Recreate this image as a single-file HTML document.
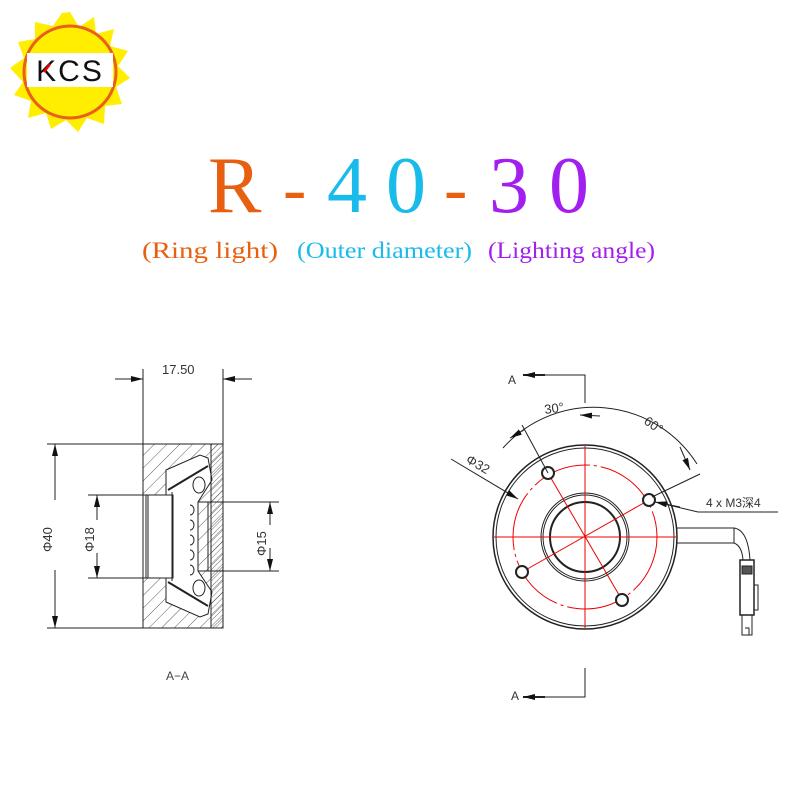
<!DOCTYPE html>
<html><head><meta charset="utf-8"><style>html,body{margin:0;padding:0;background:#fff}svg{display:block}</style></head>
<body>
<svg width="800" height="800" viewBox="0 0 800 800" xmlns="http://www.w3.org/2000/svg">
<defs>
<pattern id="h" width="9" height="9" patternUnits="userSpaceOnUse" patternTransform="rotate(45)"><line x1="0" y1="0" x2="0" y2="9" stroke="#333" stroke-width="0.8"/></pattern>
<pattern id="h2" width="4" height="4" patternUnits="userSpaceOnUse" patternTransform="rotate(45)"><line x1="0" y1="0" x2="0" y2="4" stroke="#333" stroke-width="0.7"/></pattern>
<marker id="ar" markerWidth="12" markerHeight="6" refX="12" refY="3" orient="auto" markerUnits="userSpaceOnUse"><path d="M0,0 L12,3 L0,6 z" fill="#111"/></marker>
</defs>
<!-- logo -->
<g transform="translate(70,72)">
<polygon fill="#ffee00" points="0,-60 9,-45 24,-55 26,-38 44,-43 40,-26 58,-21 48,-6 60,6 46,15 52,32 35,34 34,52 17,46 8,60 -4,48 -19,57 -24,41 -42,46 -39,29 -56,23 -47,10 -60,-4 -46,-14 -52,-30 -35,-33 -35,-50 -17,-46 -8,-59"/>
<circle r="46" fill="#ffee00" stroke="#e8601a" stroke-width="3"/>
<rect x="-43" y="-19" width="86" height="34" fill="#fff"/>
<text x="0" y="9" text-anchor="middle" font-family="Liberation Sans, sans-serif" font-size="30" fill="#111" letter-spacing="2">KCS</text>
<line x1="-20" y1="-8" x2="-26" y2="0" stroke="#e00" stroke-width="2.5"/>
</g>
<!-- title -->
<g font-family="Liberation Serif, serif" font-size="80">
<text x="208" y="212" fill="#e8600f">R</text>
<text x="283" y="212" fill="#e8600f" font-size="70">-</text>
<text x="327" y="212" fill="#18bbea">4</text>
<text x="386" y="212" fill="#18bbea">0</text>
<text x="444" y="212" fill="#e8600f" font-size="70">-</text>
<text x="489" y="212" fill="#a21ff0">3</text>
<text x="549" y="212" fill="#a21ff0">0</text>
</g>
<g font-family="Liberation Serif, serif" font-size="23">
<text x="142" y="258" fill="#e8600f" textLength="136" lengthAdjust="spacingAndGlyphs">(Ring light)</text>
<text x="297" y="258" fill="#18bbea" textLength="175" lengthAdjust="spacingAndGlyphs">(Outer diameter)</text>
<text x="488" y="258" fill="#a21ff0" textLength="167" lengthAdjust="spacingAndGlyphs">(Lighting angle)</text>
</g>
<!-- left section -->
<g stroke="#222" stroke-width="1" fill="none" font-family="Liberation Sans, sans-serif">
<line x1="143" y1="369" x2="143" y2="444"/><line x1="223" y1="369" x2="223" y2="444"/>
<line x1="115" y1="379" x2="143" y2="379" marker-end="url(#ar)"/><line x1="252" y1="379" x2="223" y2="379" marker-end="url(#ar)"/>
<text x="162" y="374" font-size="13" fill="#333" stroke="none">17.50</text>
<line x1="47" y1="444" x2="143" y2="444"/><line x1="47" y1="628" x2="143" y2="628"/>
<line x1="55" y1="500" x2="55" y2="444" marker-end="url(#ar)"/><line x1="55" y1="570" x2="55" y2="628" marker-end="url(#ar)"/>
<text transform="translate(52,552) rotate(-90)" font-size="13" fill="#333" stroke="none">Φ40</text>
<line x1="88" y1="495" x2="170" y2="495"/><line x1="88" y1="578" x2="170" y2="578"/>
<line x1="97" y1="520" x2="97" y2="495" marker-end="url(#ar)"/><line x1="97" y1="553" x2="97" y2="578" marker-end="url(#ar)"/>
<text transform="translate(94,552) rotate(-90)" font-size="13" fill="#333" stroke="none">Φ18</text>
<line x1="197" y1="502" x2="279" y2="502"/><line x1="197" y1="571" x2="279" y2="571"/>
<line x1="270" y1="525" x2="270" y2="502" marker-end="url(#ar)"/><line x1="270" y1="548" x2="270" y2="571" marker-end="url(#ar)"/>
<text transform="translate(266,556) rotate(-90)" font-size="13" fill="#333" stroke="none">Φ15</text>
<!-- body -->
<path d="M143,444 H223 V628 H143 V578 H170 V495 H143 Z" fill="url(#h)"/>
<path d="M166,495 L166,470 L200,455 L208,458 L212,480 L198,502 L198,571 L212,592 L208,614 L200,617 L166,602 L166,578 Z" fill="#fff"/>
<rect x="211" y="444" width="12" height="184" fill="url(#h2)"/>
<rect x="143" y="495" width="30" height="83" fill="#fff"/>
<line x1="146" y1="495" x2="146" y2="578"/><line x1="148" y1="495" x2="148" y2="578"/>
<line x1="172" y1="492" x2="172" y2="581"/>
<path d="M198,502 H223 M198,571 H223 M208,502 V571"/>
<g fill="#fff"><path d="M190,505 a4,5 0 1 1 0,10"/><path d="M190,520 a4,5 0 1 1 0,10"/><path d="M190,535 a4,5 0 1 1 0,10"/><path d="M190,550 a4,5 0 1 1 0,10"/><path d="M190,565 a4,5 0 1 1 0,10"/>
<ellipse cx="199" cy="485" rx="6" ry="8"/><ellipse cx="199" cy="588" rx="6" ry="8"/></g>
<line x1="168" y1="490" x2="208" y2="466" stroke-width="2"/><line x1="168" y1="582" x2="208" y2="606" stroke-width="2"/>
<text x="166" y="680" font-size="12" fill="#444" stroke="none">A−A</text>
</g>
<!-- right view -->
<g stroke="#222" stroke-width="1" fill="none" font-family="Liberation Sans, sans-serif">
<path d="M585,403 V375 H540"/><line x1="545" y1="375" x2="523" y2="375" marker-end="url(#ar)" stroke-width="2"/>
<text x="508" y="384" font-size="12" fill="#333" stroke="none">A</text>
<path d="M585,668 V697 H540"/><line x1="545" y1="697" x2="523" y2="697" marker-end="url(#ar)" stroke-width="2"/>
<text x="511" y="700" font-size="12" fill="#333" stroke="none">A</text>
<rect x="676" y="528" width="58" height="15" fill="#fff"/>
<path d="M734,528 Q748,530 750,560 M734,543 Q742,546 743,560"/>
<rect x="740" y="560" width="14" height="55" fill="#fff" stroke-width="1.5"/>
<rect x="742" y="566" width="10" height="8" fill="#555"/>
<rect x="754" y="585" width="4" height="25"/>
<path d="M742,615 v20 h10 v-20 M745,628 h4 v7"/>
<circle cx="585" cy="537" r="92" fill="#fff" stroke-width="1.5"/>
<circle cx="585" cy="537" r="89"/>
<circle cx="585" cy="537" r="44"/><circle cx="585" cy="537" r="42"/>
<circle cx="585" cy="537" r="35" stroke-width="2"/>
<g stroke="#e00" stroke-width="1">
<circle cx="585" cy="537" r="72" stroke-dasharray="60,4,3,4"/>
<line x1="494" y1="537" x2="676" y2="537"/><line x1="585" y1="446" x2="585" y2="628"/>
<line x1="548" y1="473" x2="622" y2="600"/><line x1="649" y1="500" x2="522" y2="572"/>
</g>
<g stroke-width="2" fill="#fff"><circle cx="548" cy="473" r="6"/><circle cx="649" cy="500" r="6"/><circle cx="522" cy="572" r="6"/><circle cx="622" cy="600" r="6"/></g>
<path d="M503,448 A122,122 0 0 1 697,464"/>
<line x1="524" y1="430" x2="510" y2="438" marker-end="url(#ar)"/>
<line x1="600" y1="416" x2="580" y2="415" marker-end="url(#ar)"/>
<line x1="680" y1="447" x2="690" y2="470" marker-end="url(#ar)"/>
<line x1="522" y1="425" x2="548" y2="473"/><line x1="700" y1="474" x2="652" y2="497"/>
<line x1="451" y1="459" x2="518" y2="499" marker-end="url(#ar)"/>
<text transform="translate(465,462) rotate(30)" font-size="13" fill="#333" stroke="none">Φ32</text>
<text transform="translate(545,414) rotate(-8)" font-size="13" fill="#333" stroke="none">30°</text>
<text transform="translate(643,423) rotate(35)" font-size="13" fill="#333" stroke="none">60°</text>
<path d="M778,512 H698 L660,503"/><line x1="680" y1="507" x2="655" y2="502" marker-end="url(#ar)"/>
<text x="706" y="507" font-size="12" fill="#333" stroke="none" font-family="Liberation Sans, 'Noto Sans CJK SC', sans-serif">4  x   M3深4</text>
</g>
</svg>
</body></html>
